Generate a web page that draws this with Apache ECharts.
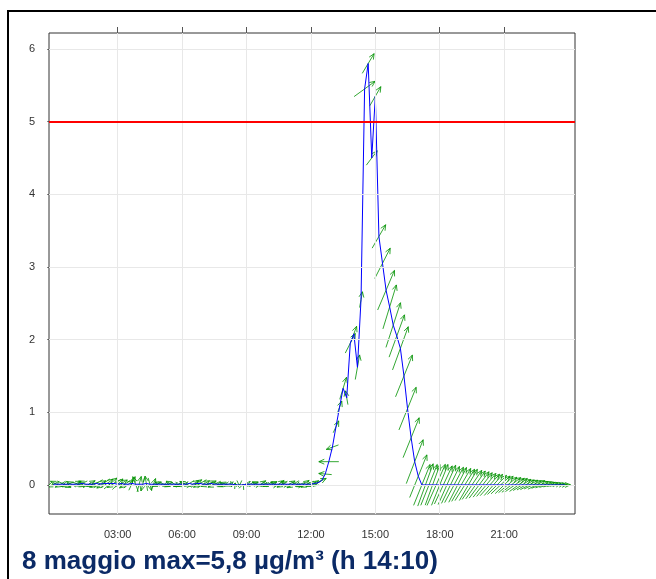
<!DOCTYPE html>
<html>
<head>
<meta charset="utf-8">
<script src="https://cdn.jsdelivr.net/npm/echarts@6/dist/echarts.min.js"></script>
<style>
  html, body { margin: 0; padding: 0; background: #fff; }
  #chart { width: 656px; height: 579px; }
</style>
</head>
<body>
<div id="chart"></div>
<script>
// 10-minute readings, 8 May, starting 00:00 (index i -> i*10 minutes)
const STEP_MIN = 10;

// concentration, µg/m³
const conc = [
  0.01,0.01,0.01,0.01,0.01,0.01,0.01,0.01,0.02,0.01,0.01,0.01,
  0.02,0.01,0.02,0.02,0.02,0.02,0.01,0.02,0.01,0.01,0.02,0.01,
  0.01,0.01,0.02,0.01,0.01,0.01,0.01,0.01,0.01,0.01,0.01,0.01,
  0.01,0.01,0.02,0.01,0.02,0.02,0.01,0.01,0.02,0.01,0.01,0.01,
  0.01,0.01,0.01,0.00,0.00,0.00,0.01,0.01,0.01,0.01,0.01,0.01,
  0.01,0.01,0.01,0.01,0.01,0.01,0.01,0.01,0.01,0.01,0.01,0.01,
  0.01,0.02,0.03,0.06,0.15,0.32,0.52,0.80,1.07,1.33,1.20,1.95,
  2.08,1.62,2.55,5.45,5.80,4.50,5.35,3.42,3.05,2.68,2.45,2.20,
  2.05,1.88,1.50,1.05,0.65,0.32,0.12,0.00,0.00,0.00,0.00,0.00,
  0.00,0.00,0.00,0.00,0.00,0.00,0.00,0.00,0.00,0.00,0.00,0.00,
  0.00,0.00,0.00,0.00,0.00,0.00,0.00,0.00,0.00,0.00,0.00,0.00,
  0.00,0.00,0.00,0.00,0.00,0.00,0.00,0.00,0.00,0.00,0.00,0.00
];

// wind speed, m/s
const windSpeed = [
  1.3,1.4,1.2,1.5,1.3,1.1,1.4,1.3,1.2,1.5,1.4,1.3,
  1.5,1.4,1.6,1.5,1.7,1.6,1.5,1.4,1.3,1.2,1.5,1.6,
  1.6,1.4,1.5,1.3,1.2,1.1,1.2,1.3,1.1,1.2,1.0,1.1,
  1.2,1.3,1.1,1.4,1.3,1.5,1.4,1.3,1.2,1.4,1.2,1.1,
  1.0,0.9,0.6,0.4,0.2,0.2,0.3,0.7,1.0,1.1,1.2,1.0,
  1.1,1.2,1.0,1.3,1.2,1.1,1.3,1.4,1.2,1.1,1.3,1.4,
  1.1,1.0,1.2,1.0,1.3,2.0,1.3,1.3,1.3,2.3,1.4,2.2,
  1.6,2.5,1.6,2.6,2.3,1.8,2.2,2.7,3.4,4.3,4.6,4.7,
  4.5,4.6,4.5,4.6,4.3,4.7,4.6,4.4,4.5,4.4,4.3,4.5,
  4.4,4.2,4.3,4.1,4.0,3.9,3.8,3.7,3.6,3.5,3.4,3.3,
  3.1,3.0,2.9,2.8,2.7,2.6,2.5,2.4,2.4,2.3,2.2,2.1,
  2.0,2.0,1.9,1.9,1.8,1.7,1.6,1.5,1.4,1.3,1.2,1.1
];

// direction the wind blows towards, degrees clockwise from north
const windDir = [
  245,295,240,115,250,300, 65,110,245,295, 60,250,
  240, 60,235, 55, 50,240, 45, 60,235, 50, 25,340,
   15,195,350,165, 20,245,290,110,250,300,115,245,
  250,295,240, 60, 55,240, 60,250, 65,245,115,255,
  290,245,200,340,180, 20,260,240, 65,295, 55,250,
  245, 65,295, 55,240,300, 60,240,115,250, 55,245,
  245, 55,235, 65,275,270,250, 25, 20, 17,350, 27,
   20, 10, 10, 54, 31, 37, 30, 30, 27, 23, 17, 18,
   20, 20, 22, 22, 22, 21, 22, 22, 20, 22, 20, 24,
   22, 25, 24, 26, 28, 27, 30, 32, 30, 34, 35, 37,
   38, 40, 42, 41, 45, 47, 46, 50, 52, 55, 54, 58,
   60, 62, 65, 63, 68, 70, 72, 75, 78, 80, 84, 88
];

const xTicks = [3, 6, 9, 12, 15, 18, 21];
const yTicks = [0, 1, 2, 3, 4, 5, 6];
const limitValue = 5;
const titleText = '8 maggio max=5,8 µg/m³ (h 14:10)';

const FONT = "'Liberation Sans', Arial, sans-serif";
const ARROW_PX_PER_MS = 10;   // arrow length per m/s
const HEAD_LEN = 6;
const HEAD_ANGLE = 24 * Math.PI / 180;

const hours = conc.map((_, i) => i * STEP_MIN / 60);
const lineData = conc.map((c, i) => [hours[i], c]);
const arrowData = conc.map((c, i) => [hours[i], c, windSpeed[i], windDir[i]]);

function fmtHour(v) {
  return String(v).padStart(2, '0') + ':00';
}

// wind arrow centred on the reading, pointing where the wind blows
function renderArrow(params, api) {
  const p = api.coord([api.value(0), api.value(1)]);
  const len = api.value(2) * ARROW_PX_PER_MS;
  const rad = api.value(3) * Math.PI / 180;
  const dx = Math.sin(rad) * len;
  const dy = -Math.cos(rad) * len;
  const x0 = p[0] - dx / 2, y0 = p[1] - dy / 2;
  const x1 = p[0] + dx / 2, y1 = p[1] + dy / 2;
  const a = Math.atan2(dy, dx);
  const h1 = [x1 - HEAD_LEN * Math.cos(a - HEAD_ANGLE), y1 - HEAD_LEN * Math.sin(a - HEAD_ANGLE)];
  const h2 = [x1 - HEAD_LEN * Math.cos(a + HEAD_ANGLE), y1 - HEAD_LEN * Math.sin(a + HEAD_ANGLE)];
  const style = { stroke: 'rgba(0,145,0,0.8)', lineWidth: 1, fill: null };
  return {
    type: 'group',
    children: [
      { type: 'polyline', shape: { points: [[x0, y0], [x1, y1]] }, style },
      { type: 'polyline', shape: { points: [h1, [x1, y1], h2] }, style }
    ]
  };
}

const chart = echarts.init(document.getElementById('chart'), null, { renderer: 'canvas' });

chart.setOption({
  animation: false,
  backgroundColor: '#fff',
  textStyle: { fontFamily: FONT },
  grid: {
    left: 49, right: 81, top: 33, bottom: 65,
    show: true, borderColor: '#333', borderWidth: 1, backgroundColor: 'transparent'
  },
  xAxis: [
    {
      type: 'value', position: 'bottom', min: -0.2, max: 24.3,
      axisLine: { show: false },
      axisTick: { show: true, customValues: xTicks, length: 6, lineStyle: { color: '#555' } },
      axisLabel: { show: true, customValues: xTicks, formatter: fmtHour, margin: 15,
                   fontSize: 11, color: '#333', fontFamily: FONT },
      splitLine: { show: false }
    },
    {
      type: 'value', position: 'top', min: -0.2, max: 24.3,
      axisLine: { show: false },
      axisTick: { show: true, customValues: xTicks, length: 6, lineStyle: { color: '#555' } },
      axisLabel: { show: false },
      splitLine: { show: false }
    }
  ],
  yAxis: {
    type: 'value', min: -0.4, max: 6.22,
    axisLine: { show: false },
    axisTick: { show: true, customValues: yTicks, length: 6, lineStyle: { color: '#555' } },
    axisLabel: { show: true, customValues: yTicks, margin: 14, fontSize: 11,
                 color: '#333', fontFamily: FONT },
    splitLine: { show: false }
  },
  series: [
    {
      // reference grid
      type: 'line', data: [], z: 1, silent: true,
      markLine: {
        silent: true, symbol: 'none', animation: false,
        label: { show: false },
        lineStyle: { color: '#e8e8e8', width: 1, type: 'solid' },
        data: xTicks.map(v => ({ xAxis: v })).concat(yTicks.map(v => ({ yAxis: v })))
      }
    },
    {
      type: 'custom', data: arrowData, z: 3, silent: true, clip: true,
      encode: { x: 0, y: 1 },
      renderItem: renderArrow
    },
    {
      type: 'line', data: lineData, z: 4, showSymbol: false, silent: true,
      lineStyle: { color: '#0000ff', width: 1 }
    },
    {
      // limit value
      type: 'line', data: [], z: 5, silent: true,
      markLine: {
        silent: true, symbol: 'none', animation: false,
        label: { show: false },
        lineStyle: { color: '#ff0000', width: 2, type: 'solid' },
        data: [{ yAxis: limitValue }]
      }
    }
  ],
  graphic: [
    { type: 'line', shape: { x1: 8, y1: 10, x2: 8, y2: 579 }, style: { stroke: '#000', lineWidth: 2 } },
    { type: 'line', shape: { x1: 7, y1: 11, x2: 656, y2: 11 }, style: { stroke: '#000', lineWidth: 2 } },
    {
      type: 'text', left: 22, top: 549,
      style: { text: titleText, fill: '#0b2a66', font: 'bold 26px ' + FONT }
    }
  ]
});
</script>
</body>
</html>
